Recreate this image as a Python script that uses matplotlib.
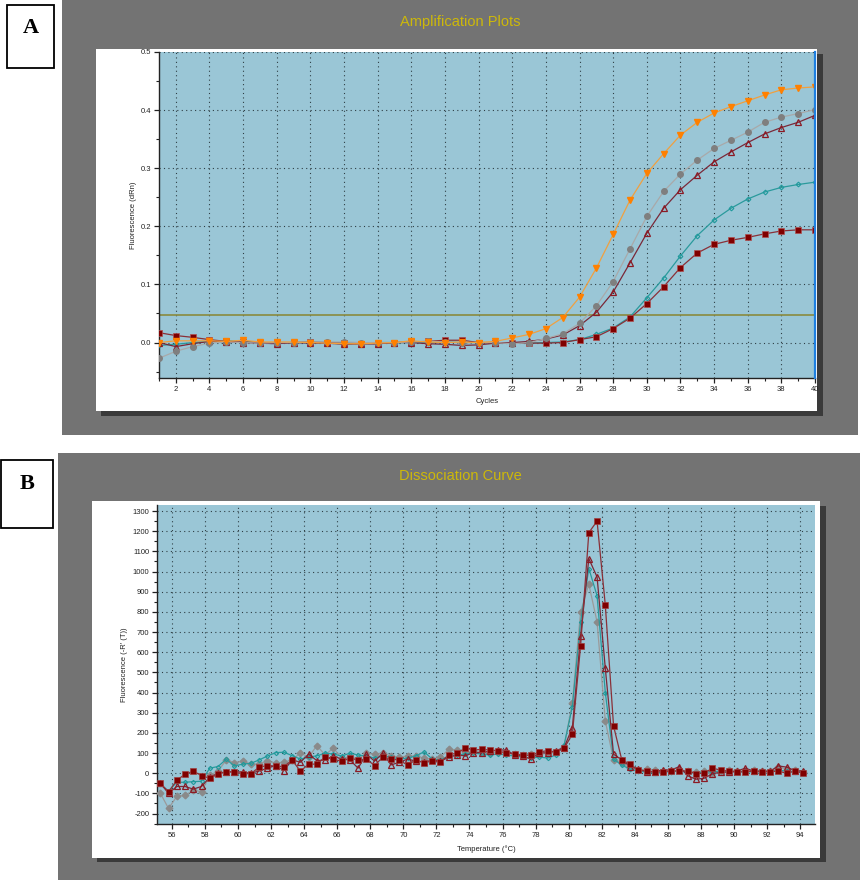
import numpy as np
import matplotlib
matplotlib.use("Agg")
import matplotlib.pyplot as plt
from matplotlib.patches import Rectangle
from matplotlib.ticker import MultipleLocator, FixedLocator

plt.rcParams["axes.unicode_minus"] = False

# ---------------- Panel A data (amplification) ----------------
cycles = list(range(1, 41))
amp_orange = [0.000, 0.003, 0.003, 0.003, 0.002, 0.004, 0.001, 0.001, 0.001, 0.000,
              -0.001, -0.002, -0.002, -0.001, 0.000, 0.003, 0.001, 0.000, 0.001, 0.000,
              0.002, 0.008, 0.014, 0.024, 0.043, 0.078, 0.128, 0.186, 0.245, 0.291,
              0.325, 0.357, 0.379, 0.395, 0.406, 0.416, 0.426, 0.435, 0.438, 0.440]
amp_gray = [-0.027, -0.015, -0.007, -0.001, 0.001, 0.000, -0.001, 0.000, 0.000, 0.001,
            0.001, 0.001, 0.000, 0.000, 0.000, 0.001, 0.002, 0.001, -0.001, 0.000,
            0.000, -0.002, 0.000, 0.007, 0.015, 0.033, 0.063, 0.105, 0.161, 0.217,
            0.260, 0.290, 0.314, 0.334, 0.348, 0.362, 0.379, 0.388, 0.394, 0.401]
amp_tri = [0.000, -0.007, -0.002, 0.002, 0.001, 0.000, -0.001, -0.002, 0.000, -0.001,
           -0.001, -0.003, -0.002, -0.002, 0.000, 0.000, -0.002, -0.003, -0.005, -0.004,
           -0.001, 0.000, 0.002, 0.006, 0.013, 0.029, 0.052, 0.087, 0.137, 0.188,
           0.231, 0.263, 0.288, 0.311, 0.328, 0.344, 0.359, 0.370, 0.379, 0.391]
amp_teal = [-0.005, -0.003, 0.000, 0.002, 0.003, 0.002, 0.000, -0.001, 0.000, 0.000,
            0.000, -0.001, -0.001, 0.000, 0.000, 0.000, 0.000, 0.001, 0.000, 0.000,
            0.000, -0.001, -0.001, 0.000, 0.001, 0.005, 0.014, 0.025, 0.044, 0.077,
            0.111, 0.149, 0.184, 0.211, 0.231, 0.247, 0.259, 0.267, 0.272, 0.276]
amp_square = [0.017, 0.012, 0.009, 0.005, 0.002, 0.001, 0.000, -0.001, 0.000, 0.001,
              0.000, -0.001, -0.002, -0.002, 0.000, 0.001, 0.002, 0.004, 0.004, 0.000,
              -0.001, 0.000, -0.001, -0.001, 0.000, 0.005, 0.010, 0.024, 0.042, 0.067,
              0.096, 0.129, 0.154, 0.169, 0.176, 0.181, 0.187, 0.192, 0.194, 0.194]
threshold = 0.047

# ---------------- Panel B data (dissociation) ----------------
temps = np.linspace(55.3, 94.18, 79)
dis_square = [-50, -93, -35, -5, 10, -12, -25, -5, 8, 5,
              -3, -2, 30, 38, 35, 33, 65, 10, 45, 45,
              80, 68, 60, 75, 65, 70, 38, 80, 70, 65,
              40, 66, 52, 60, 55, 91, 100, 124, 115, 118,
              115, 110, 100, 95, 90, 88, 105, 112, 104, 124,
              193, 632, 1193, 1250, 833, 234, 66, 45, 16, 10,
              5, 8, 10, 12, 10, -2, 0, 25, 15, 10,
              5, 8, 10, 5, 8, 10, 0, 10, 0]
dis_tri = [-50, -100, -66, -66, -79, -66, -20, 0, 5, 8,
           5, 0, 11, 25, 38, 13, 66, 54, 95, 62,
           66, 86, 69, 66, 25, 94, 60, 99, 41, 54,
           70, 60, 55, 65, 60, 79, 90, 86, 102, 102,
           110, 115, 115, 90, 85, 69, 102, 100, 112, 127,
           226, 681, 1064, 973, 520, 94, 66, 33, 20, 8,
           8, 16, 16, 33, -13, -30, -25, -3, 5, 5,
           11, 25, 10, 10, 10, 36, 30, 13, 10]
dis_gray = [-99, -175, -115, -110, -85, -92, -10, 10, 65, 52,
            60, 45, 45, 62, 50, 55, 66, 100, 80, 137,
            90, 125, 75, 80, 70, 98, 95, 100, 85, 80,
            85, 85, 75, 70, 80, 118, 115, 105, 110, 105,
            100, 105, 100, 95, 90, 95, 95, 100, 105, 130,
            350, 800, 937, 750, 259, 66, 50, 25, 15, 20,
            15, 10, 10, 15, 10, 5, 10, 0, 10, 15,
            10, 10, 15, 10, 10, 30, 20, 15, 5]
dis_teal = [-55, -88, -45, -45, -42, -40, 25, 33, 69, 36,
            45, 49, 66, 85, 102, 104, 87, 70, 80, 86,
            99, 95, 85, 99, 90, 85, 75, 85, 80, 70,
            75, 85, 106, 70, 65, 85, 90, 95, 100, 95,
            90, 95, 90, 85, 80, 75, 80, 75, 90, 140,
            330, 750, 1015, 880, 400, 70, 40, 20, 10, 5,
            0, 5, 8, 10, 5, 0, 5, 8, 10, 5,
            10, 5, 8, 10, 8, 15, 10, 5, 10]

# ---------------- figure layout ----------------
W, H = 860, 880
fig = plt.figure(figsize=(W / 100, H / 100), dpi=100)
fig.patch.set_facecolor("white")

def frac(x0, y0, x1, y1):
    return [x0 / W, 1 - y1 / H, (x1 - x0) / W, (y1 - y0) / H]

bg = fig.add_axes([0, 0, 1, 1], zorder=-10)
bg.set_xlim(0, W)
bg.set_ylim(H, 0)
bg.axis("off")

GRAY = "#737373"
SHADOW = "#3a3a3a"
# panel A frame
bg.add_patch(Rectangle((62, 0), 796, 435, fc=GRAY, ec="none"))
bg.add_patch(Rectangle((101, 54), 722, 362, fc=SHADOW, ec="none"))
bg.add_patch(Rectangle((96, 49), 721, 362, fc="white", ec="none"))
# panel B frame
bg.add_patch(Rectangle((58, 453), 802, 427, fc=GRAY, ec="none"))
bg.add_patch(Rectangle((97, 506), 729, 356, fc=SHADOW, ec="none"))
bg.add_patch(Rectangle((92, 501), 728, 357, fc="white", ec="none"))
# letter boxes
bg.add_patch(Rectangle((7, 5), 47, 63, fc="white", ec="black", lw=1.3))
bg.add_patch(Rectangle((1, 460), 52, 68, fc="white", ec="black", lw=1.3))
bg.text(30.5, 28, "A", ha="center", va="center", fontsize=16, fontweight="bold",
        family="Liberation Serif")
bg.text(27, 484, "B", ha="center", va="center", fontsize=16, fontweight="bold",
        family="Liberation Serif")
TITLE_C = "#cdb80a"
bg.text(460, 22, "Amplification Plots", ha="center", va="center", fontsize=10.5,
        color=TITLE_C, family="Liberation Sans")
bg.text(460, 476, "Dissociation Curve", ha="center", va="center", fontsize=10.5,
        color=TITLE_C, family="Liberation Sans")

PLOT_BG = "#9ac6d6"
GRID_KW = dict(color="#2f3f45", linestyle=(0, (1, 3.0)), linewidth=0.8)
TICK_FS = 5.5
TXT = "#222222"

def style_axes(ax):
    ax.set_facecolor(PLOT_BG)
    for s in ("top", "right"):
        ax.spines[s].set_visible(False)
    for s in ("left", "bottom"):
        ax.spines[s].set_color("#222222")
        ax.spines[s].set_linewidth(1.0)
    ax.tick_params(which="major", length=3.5, width=0.9, labelsize=TICK_FS,
                   colors="#222222", labelcolor=TXT, pad=2)
    ax.tick_params(which="minor", length=2.5, width=0.8, colors="#222222")
    ax.grid(True, which="major", **GRID_KW)
    ax.set_axisbelow(True)

# ---------------- Panel A ----------------
axA = fig.add_axes(frac(159, 52, 815, 378))
style_axes(axA)
axA.set_xlim(1, 40)
axA.set_ylim(-0.061, 0.5)
axA.xaxis.set_major_locator(FixedLocator(list(range(2, 41, 2))))
axA.xaxis.set_minor_locator(MultipleLocator(1))
axA.yaxis.set_major_locator(FixedLocator([0.0, 0.1, 0.2, 0.3, 0.4, 0.5]))
axA.yaxis.set_minor_locator(FixedLocator([-0.05, 0.05, 0.15, 0.25, 0.35, 0.45]))
axA.set_yticklabels(["0.0", "0.1", "0.2", "0.3", "0.4", "0.5"])
axA.set_xlabel("Cycles", fontsize=5.5, color=TXT, labelpad=4, family="Liberation Sans")
axA.set_ylabel("Fluorescence (dRn)", fontsize=5.5, color=TXT, labelpad=3,
               family="Liberation Sans")
for lab in axA.get_xticklabels() + axA.get_yticklabels():
    lab.set_family("Liberation Sans")

axA.axhline(threshold, color="#8a8a3e", lw=1.2, zorder=2)
axA.plot(cycles, amp_teal, color="#2a9a9c", lw=0.9, marker="D", ms=2.4,
         mfc="none", mec="#1f9a9c", mew=0.8, zorder=3)
axA.plot(cycles, amp_square, color="#8a3038", lw=0.9, marker="s", ms=4.0,
         mfc="#800000", mec="#b05050", mew=0.5, zorder=4)
axA.plot(cycles, amp_tri, color="#7a2838", lw=0.9, marker="^", ms=4.6,
         mfc="none", mec="#8b1a24", mew=0.9, zorder=5)
axA.plot(cycles, amp_gray, color="#a9a9a9", lw=0.9, marker="o", ms=4.0,
         mfc="#7f7f7f", mec="#7f7f7f", zorder=6)
axA.plot(cycles, amp_orange, color="#f0a040", lw=0.9, marker="v", ms=4.4,
         mfc="#ff8000", mec="#ff8000", zorder=7)
axA.axvline(40, color="#1e7fe0", lw=1.6, zorder=8, clip_on=False)

# ---------------- Panel B ----------------
axB = fig.add_axes(frac(157, 505, 815, 824))
style_axes(axB)
axB.set_xlim(55.1, 94.9)
axB.set_ylim(-252, 1330)
axB.xaxis.set_major_locator(FixedLocator(list(range(56, 95, 2))))
axB.xaxis.set_minor_locator(MultipleLocator(1))
axB.yaxis.set_major_locator(FixedLocator(list(range(-200, 1301, 100))))
axB.yaxis.set_minor_locator(FixedLocator(list(range(-250, 1300, 100))))
axB.set_xlabel("Temperature (°C)", fontsize=5.5, color=TXT, labelpad=5,
               family="Liberation Sans")
axB.set_ylabel("Fluorescence (-R' (T))", fontsize=5.5, color=TXT, labelpad=3,
               family="Liberation Sans")
for lab in axB.get_xticklabels() + axB.get_yticklabels():
    lab.set_family("Liberation Sans")

axB.plot(temps, dis_gray, color="#9a9a9a", lw=0.9, marker="D", ms=3.4,
         mfc="#8a8a8a", mec="#8a8a8a", zorder=3)
axB.plot(temps, dis_teal, color="#2a9a9c", lw=0.9, marker="D", ms=2.2,
         mfc="none", mec="#1f9a9c", mew=0.8, zorder=4)
axB.plot(temps, dis_tri, color="#7a2838", lw=0.9, marker="^", ms=4.3,
         mfc="none", mec="#8b1a24", mew=0.9, zorder=5)
axB.plot(temps, dis_square, color="#8a3038", lw=0.9, marker="s", ms=3.7,
         mfc="#800000", mec="#a04040", mew=0.5, zorder=6)

fig.savefig("out.png", dpi=100)
